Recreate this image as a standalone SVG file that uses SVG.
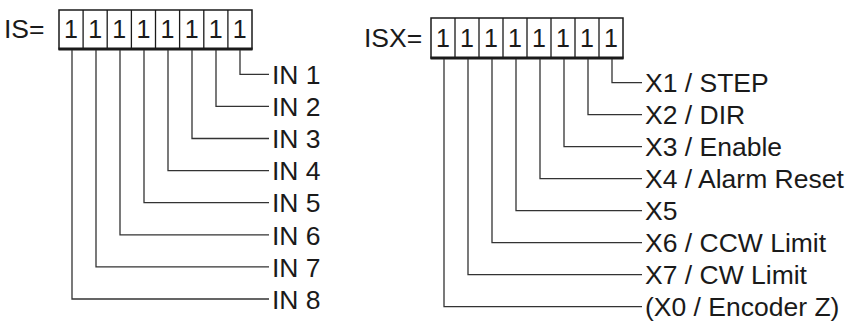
<svg xmlns="http://www.w3.org/2000/svg" width="865" height="323" viewBox="0 0 865 323">
<style>
text{font-family:"Liberation Sans",Arial,sans-serif;fill:#1a1a1a}
.lbl{font-size:26.5px}
.dig{font-size:25px;text-anchor:middle}
.box{fill:#fff;stroke:#1a1a1a;stroke-width:1.5}
.div{stroke:#1a1a1a;stroke-width:1.3}
.base{stroke:#1a1a1a;stroke-width:3}
.wire{fill:none;stroke:#333;stroke-width:1.3}
</style>
<g id="is-register">
<text class="lbl" x="4" y="37.5">IS=</text>
<rect class="box" x="59" y="10" width="193" height="39"/>
<path class="div" d="M83.1 10V49M107.2 10V49M131.4 10V49M155.5 10V49M179.6 10V49M203.8 10V49M227.9 10V49"/>
<line class="base" x1="58.5" y1="49" x2="252.5" y2="49"/>
<text class="dig" x="71" y="37.5">1</text>
<text class="dig" x="95.2" y="37.5">1</text>
<text class="dig" x="119.3" y="37.5">1</text>
<text class="dig" x="143.4" y="37.5">1</text>
<text class="dig" x="167.5" y="37.5">1</text>
<text class="dig" x="191.6" y="37.5">1</text>
<text class="dig" x="215.7" y="37.5">1</text>
<text class="dig" x="239.8" y="37.5">1</text>
</g>
<g id="isx-register">
<text class="lbl" x="364" y="47">ISX=</text>
<rect class="box" x="431" y="18" width="192" height="40"/>
<path class="div" d="M455 18V58M479 18V58M503 18V58M527 18V58M551 18V58M575 18V58M599 18V58"/>
<line class="base" x1="430.5" y1="58" x2="623.5" y2="58"/>
<text class="dig" x="443" y="46.5">1</text>
<text class="dig" x="467" y="46.5">1</text>
<text class="dig" x="491" y="46.5">1</text>
<text class="dig" x="515" y="46.5">1</text>
<text class="dig" x="539" y="46.5">1</text>
<text class="dig" x="563" y="46.5">1</text>
<text class="dig" x="587" y="46.5">1</text>
<text class="dig" x="611" y="46.5">1</text>
</g>
<g id="connectors">
<path class="wire" d="M240 50V74.3H269"/>
<path class="wire" d="M216 50V106.4H269"/>
<path class="wire" d="M192 50V138.5H269"/>
<path class="wire" d="M168 50V170.6H269"/>
<path class="wire" d="M144 50V202.7H269"/>
<path class="wire" d="M120 50V234.8H269"/>
<path class="wire" d="M96 50V266.9H269"/>
<path class="wire" d="M72 50V299H269"/>
<path class="wire" d="M612 59V82.7H642"/>
<path class="wire" d="M588 59V114.7H642"/>
<path class="wire" d="M564 59V146.7H642"/>
<path class="wire" d="M540 59V178.7H642"/>
<path class="wire" d="M516 59V210.7H642"/>
<path class="wire" d="M492 59V242.7H642"/>
<path class="wire" d="M468 59V274.7H642"/>
<path class="wire" d="M444 59V306.7H642"/>
</g>
<g id="labels-is">
<text class="lbl" x="272" y="84">IN 1</text>
<text class="lbl" x="272" y="116.1">IN 2</text>
<text class="lbl" x="272" y="148.2">IN 3</text>
<text class="lbl" x="272" y="180.3">IN 4</text>
<text class="lbl" x="272" y="212.4">IN 5</text>
<text class="lbl" x="272" y="244.5">IN 6</text>
<text class="lbl" x="272" y="276.6">IN 7</text>
<text class="lbl" x="272" y="308.7">IN 8</text>
</g>
<g id="labels-isx">
<text class="lbl" x="645" y="92.4">X1 / STEP</text>
<text class="lbl" x="645" y="124.4">X2 / DIR</text>
<text class="lbl" x="645" y="156.4">X3 / Enable</text>
<text class="lbl" x="645" y="188.4">X4 / Alarm Reset</text>
<text class="lbl" x="645" y="220.4">X5</text>
<text class="lbl" x="645" y="252.4">X6 / CCW Limit</text>
<text class="lbl" x="645" y="284.4">X7 / CW Limit</text>
<text class="lbl" x="645" y="316.4">(X0 / Encoder Z)</text>
</g>
</svg>
